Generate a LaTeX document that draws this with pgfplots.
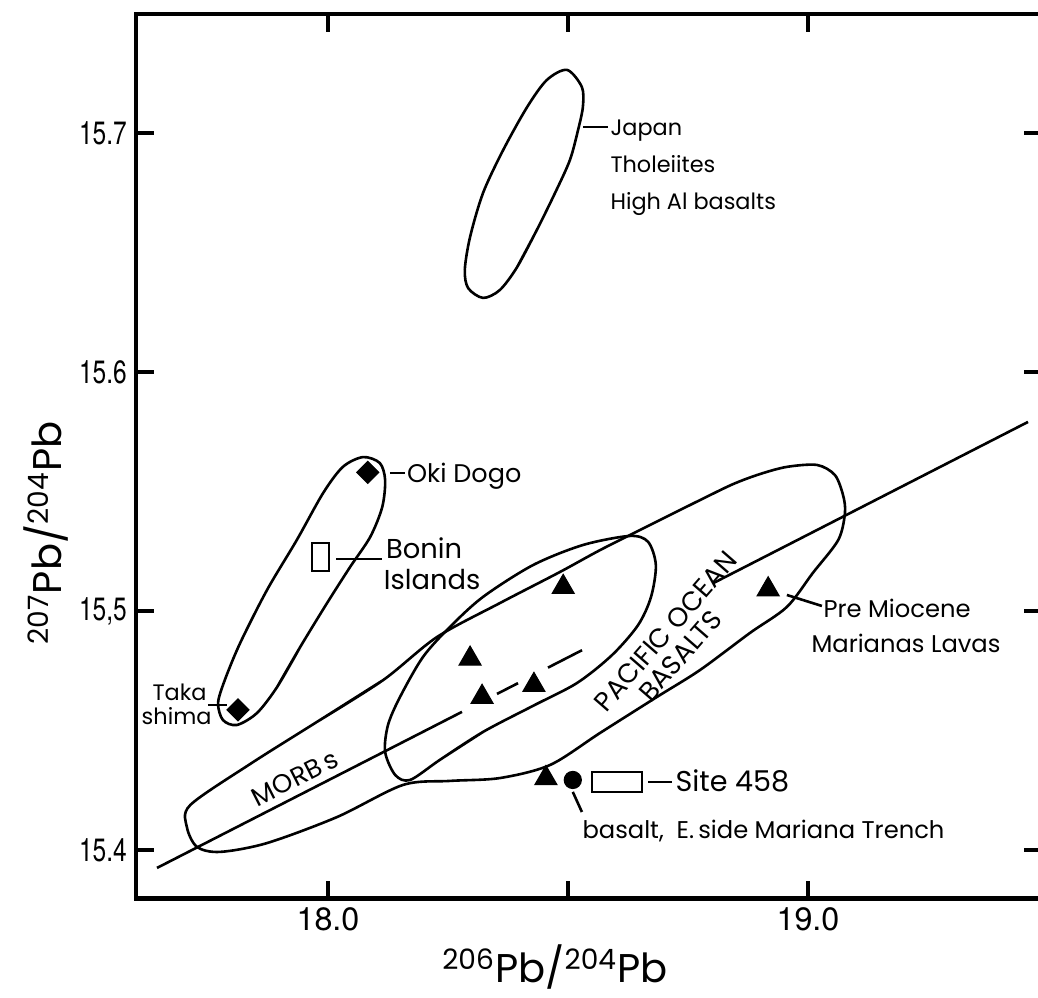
\documentclass[border=0pt]{standalone}
\usepackage{fontspec}
\usepackage{pgfplots}
\pgfplotsset{compat=1.18}
\setmainfont{Poppins}
\newfontfamily\helv{TeX Gyre Heros}
\newfontfamily\helvn[FakeStretch=0.76]{TeX Gyre Heros}
\newcommand\fs[1]{\fontsize{#1}{#1}\selectfont}

\begin{document}
\begin{tikzpicture}
\path[use as bounding box] (-1.836cm,-1.330cm) rectangle (12.177cm,12.130cm);
\clip (-1.836cm,-1.330cm) rectangle (12.177cm,12.130cm);
\begin{axis}[
  at={(0,0)}, anchor=south west,
  scale only axis, width=12.231cm, height=11.941cm,
  xmin=17.6, xmax=19.4875, ymin=15.3797, ymax=15.7498,
  axis line style={line width=1.8pt},
  xtick={18,18.5,19}, xticklabels={18.0,,19.0},
  ytick={15.4,15.5,15.6,15.7}, yticklabels={15.4,{15,5},15.6,15.7},
  tick align=inside, major tick length=0.243cm,
  tick style={line width=1.5pt, black},
  xticklabel style={font=\helv\fs{12.4}},
  yticklabel style={font=\helvn\fs{12.4}},
  clip=false,
]
% Japan tholeiites / high-Al basalts field
\addplot[black, line width=1pt, smooth] coordinates {
 (18.435,15.6594) (18.394,15.6439) (18.358,15.6343) (18.323,15.6310)
 (18.292,15.6351) (18.285,15.6427) (18.296,15.6565) (18.323,15.6749)
 (18.365,15.6929) (18.415,15.7109) (18.456,15.7222) (18.498,15.7264)
 (18.529,15.7192) (18.531,15.7109) (18.521,15.7013) (18.504,15.6887)
 (18.473,15.6749) (18.435,15.6594) (18.394,15.6439)};
% Oki Dogo - Takashima field
\addplot[black, line width=1pt, smooth] coordinates {
 (17.942,15.4849) (17.894,15.4682) (17.852,15.4573) (17.810,15.4523)
 (17.781,15.4544) (17.771,15.4615) (17.785,15.4711) (17.817,15.4866)
 (17.873,15.5088) (17.935,15.5297) (17.990,15.5494) (18.031,15.5603)
 (18.073,15.5644) (18.108,15.5619) (18.119,15.5548) (18.113,15.5435)
 (18.088,15.5310) (18.046,15.5184) (17.998,15.5033) (17.942,15.4849)
 (17.894,15.4682)};
% MORB field
\addplot[black, line width=1pt, smooth] coordinates {
 (18.323,15.4494) (18.233,15.4377) (18.171,15.4293) (18.140,15.4314)
 (18.119,15.4410) (18.125,15.4523) (18.150,15.4640) (18.198,15.4808)
 (18.254,15.4933) (18.323,15.5059) (18.427,15.5192) (18.531,15.5276)
 (18.629,15.5314) (18.667,15.5289) (18.683,15.5192) (18.673,15.5059)
 (18.646,15.4941) (18.592,15.4816) (18.519,15.4699) (18.427,15.4603)
 (18.323,15.4494) (18.233,15.4377)};
% Pacific Ocean basalt field
\addplot[black, line width=1pt, smooth] coordinates {
 (17.977,15.4536) (18.115,15.4711) (18.227,15.4891) (18.358,15.5033)
 (18.483,15.5163) (18.567,15.5255) (18.671,15.5360) (18.775,15.5464)
 (18.844,15.5531) (18.900,15.5573) (18.956,15.5603) (19.019,15.5611)
 (19.056,15.5569) (19.073,15.5485) (19.077,15.5410) (19.063,15.5297)
 (19.010,15.5159) (18.956,15.5017) (18.879,15.4908) (18.775,15.4753)
 (18.685,15.4640) (18.567,15.4490) (18.463,15.4356) (18.358,15.4301)
 (18.254,15.4289) (18.156,15.4272) (18.019,15.4138) (17.873,15.4029)
 (17.775,15.3992) (17.727,15.4013) (17.706,15.4096) (17.713,15.4188)
 (17.838,15.4360) (17.977,15.4536) (18.115,15.4711)};
% reference line, broken around the symbols and the field label
\addplot[black, line width=1pt] coordinates {(17.6438,15.3925) (18.2792,15.4578)};
\addplot[black, line width=1pt] coordinates {(18.3521,15.4653) (18.3958,15.4698)};
\addplot[black, line width=1pt] coordinates {(18.4583,15.4763) (18.5292,15.4836)};
\addplot[black, line width=1pt] coordinates {(18.8021,15.5116) (19.4583,15.5791)};
% leader lines
\addplot[black, line width=1pt] coordinates {(18.531,15.7025) (18.583,15.7025)};
\addplot[black, line width=1pt] coordinates {(18.129,15.5577) (18.160,15.5577)};
\addplot[black, line width=1pt] coordinates {(18.017,15.5218) (18.1125,15.5218)};
\addplot[black, line width=1pt] coordinates {(17.750,15.4607) (17.790,15.4607)};
\addplot[black, line width=1pt] coordinates {(18.667,15.4285) (18.717,15.4285)};
\addplot[black, line width=1pt] coordinates {(18.510,15.4243) (18.529,15.4159)};
\addplot[black, line width=1pt] coordinates {(18.956,15.5067) (19.029,15.5021)};
% Bonin Islands and Site 458 boxes
\addplot[black, line width=1pt, line cap=rect] coordinates {
 (17.967,15.5285) (18.002,15.5285) (18.002,15.5167) (17.967,15.5167) (17.967,15.5285)};
\addplot[black, line width=1pt, line cap=rect] coordinates {
 (18.550,15.4326) (18.654,15.4326) (18.654,15.4243) (18.550,15.4243) (18.550,15.4326)};
% Oki Dogo and Takashima
\addplot[only marks, mark=square*, mark size=3pt, mark options={rotate=45, fill=black}] coordinates {
 (18.083,15.558) (17.8125,15.4586)};
% Marianas lavas
\addplot[only marks, mark=triangle*, mark size=4.9pt, mark options={fill=black}] coordinates {
 (18.490,15.510) (18.296,15.480) (18.321,15.464) (18.429,15.469) (18.454,15.430) (18.917,15.509)};
% E. side Mariana Trench basalt
\addplot[only marks, mark=*, mark size=3.3pt, mark options={fill=black}] coordinates {(18.510,15.4293)};

% labels (multi-line nodes sit on the baseline of their last line)
\node[anchor=base west, inner sep=0, align=left, font=\fontsize{8.6}{14.2}\selectfont]
  at (axis cs:18.5875,15.6681) {Japan\\Tholeiites\\High Al basalts};
\node[anchor=base west, inner sep=0, font=\fs{9.8}] at (axis cs:18.1639,15.5538) {Oki Dogo};
\node[anchor=base west, inner sep=0, align=left, font=\fontsize{10.5}{12.2}\selectfont]
  at (axis cs:18.1153,15.5088) {\hspace*{0.9pt}Bonin\\Islands};
\node[anchor=base east, inner sep=0, align=right, font=\fontsize{8.6}{9.6}\selectfont]
  at (axis cs:17.7583,15.4523) {Taka\hspace*{1.9pt}\\shima};
\node[anchor=base west, inner sep=0, font=\fs{11}] at (axis cs:18.7229,15.4243) {Site 458};
\node[anchor=base west, inner sep=0, font=\fs{9.3}] at (axis cs:18.5292,15.4050) {basalt,\ \ E.\,side Mariana Trench};
\node[anchor=base west, inner sep=0, align=left, font=\fontsize{9.3}{13.4}\selectfont]
  at (axis cs:19.0063,15.4828) {\hspace*{4.6pt}Pre Miocene\\Marianas Lavas};
\node[rotate=27, inner sep=0, font=\fs{10}] at (axis cs:17.9313,15.4301) {MORB\,s};
\node[rotate=49, inner sep=0, align=center, font=\fontsize{10.3}{10.4}\selectfont]
  at (axis cs:18.725,15.4879) {PACIFIC OCEAN\\BASALTS\hspace*{7pt}};
% axis titles
\node[anchor=base, inner sep=0, font=\fs{15.4}] at (axis cs:18.4729,15.3444)
  {\textsuperscript{206}Pb/\textsuperscript{204}Pb};
\node[anchor=base, rotate=90, inner sep=0, font=\fs{15.4}] at (axis cs:17.4458,15.5326)
  {\textsuperscript{207}Pb/\textsuperscript{204}Pb};
\end{axis}
\end{tikzpicture}
\end{document}
